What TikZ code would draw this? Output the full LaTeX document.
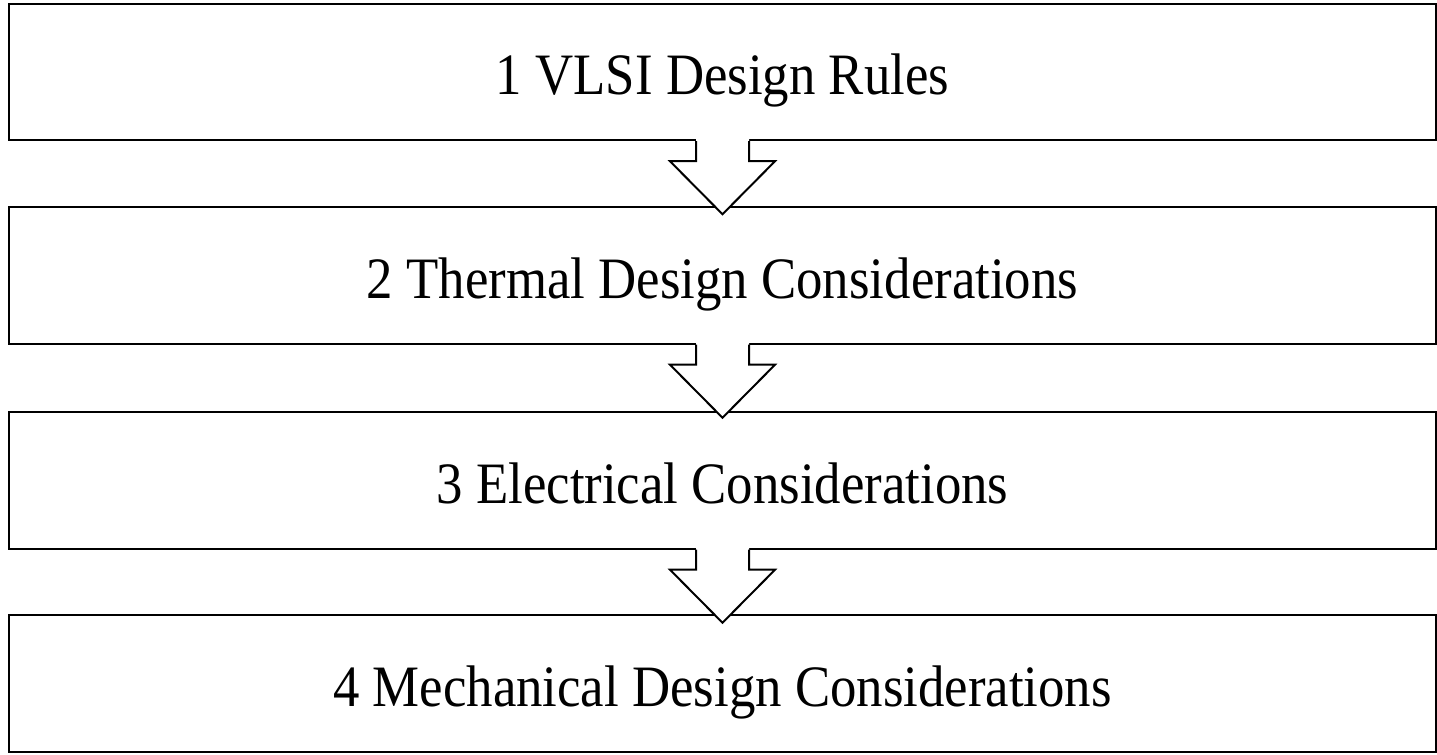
\documentclass[tikz,border=0pt]{standalone}
\usepackage{fontspec}
\usepackage{graphicx}
\setmainfont{Liberation Serif}
\usetikzlibrary{calc}
\newcommand\stagetext[1]{\scalebox{0.9}[1]{#1}}
\tikzset{
  stage/.style={draw=black, line width=1.5pt, minimum width=1070.25pt, inner sep=0pt,
    text height=68.25pt, text depth=34.1pt, font=\fontsize{44}{52}\selectfont},
  flowline/.style={draw=black, line width=1.5pt, line join=miter},
}
\newcommand\flowarrow[2]{%
  \fill[white] ($(#1.south)+(-26.5,-2)$) -- ($(#1.south)+(-26.5,20)$) -- ($(#1.south)+(-52.5,20)$)
     -- ($(#1.south)+(0,73)$) -- ($(#1.south)+(52.5,20)$) -- ($(#1.south)+(26.5,20)$) -- ($(#1.south)+(26.5,-2)$) -- cycle;
  \draw[flowline] ($(#1.south)+(-26.5,0)$) -- ($(#1.south)+(-26.5,20)$) -- ($(#1.south)+(-52.5,20)$)
     -- ($(#1.south)+(0,73)$) coordinate (#2) -- ($(#1.south)+(52.5,20)$) -- ($(#1.south)+(26.5,20)$) -- ($(#1.south)+(26.5,0)$);
}
\begin{document}
\begin{tikzpicture}[x=0.75pt, y=-0.75pt]
\useasboundingbox (0,0) rectangle (1437,754);
\node[stage] (b1) at (722.5,72) {\stagetext{1 VLSI Design Rules}};
\node[stage] (b2) at (722.5,275.5) {\stagetext{2 Thermal Design Considerations}};
\node[stage] (b3) at (722.5,480.5) {\stagetext{3 Electrical Considerations}};
\node[stage] (b4) at (722.5,683.5) {\stagetext{4 Mechanical Design Considerations}};
\flowarrow{b1}{t1}
\flowarrow{b2}{t2}
\flowarrow{b3}{t3}
\end{tikzpicture}
\end{document}
